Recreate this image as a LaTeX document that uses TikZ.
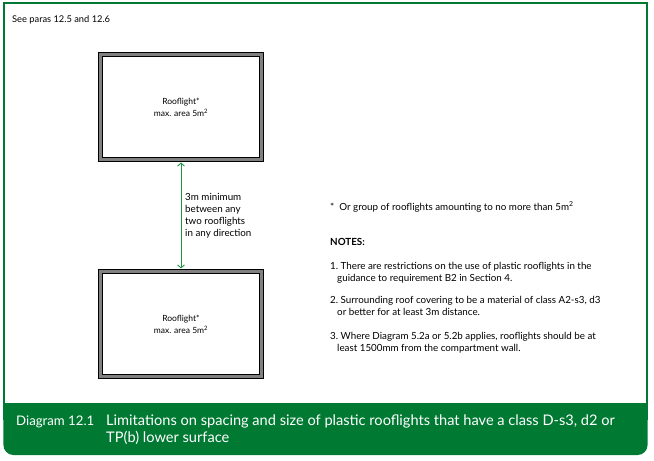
\documentclass[tikz,border=0pt]{standalone}
\usepackage{fontspec}
\setmainfont{Lato}
\usetikzlibrary{positioning,arrows.meta}

\definecolor{framegreen}{RGB}{0,122,51}
\definecolor{arrowgreen}{RGB}{34,145,72}
\definecolor{bordergray}{RGB}{128,128,128}

\tikzset{
  rooflight/.style={draw=black, line width=0.9pt, double=bordergray, double distance=2.6pt,
    minimum width=161pt, minimum height=105pt, inner sep=0pt, align=center,
    font=\fontsize{8.5}{12}\selectfont},
  notetext/.style={anchor=base west, inner sep=0pt, align=left,
    font=\fontsize{9.8}{12}\selectfont},
  captext/.style={anchor=base west, inner sep=0pt, align=left, text=white,
    font=\fontsize{14.6}{17}\selectfont}
}

\begin{document}
\begin{tikzpicture}[x=1pt,y=-1pt]
\useasboundingbox (0,0) rectangle (654,461);
% outer frame and caption band
\draw[framegreen, line width=1.1pt] (4,404) |- (647,3) -- (647,404);
\fill[framegreen, rounded corners=10pt] (3.45,403) rectangle (647.55,455);
\fill[framegreen] (3.45,403) rectangle (647.55,420);

\node[notetext, font=\fontsize{9.3}{12}\selectfont] (see) at (12,22) {See paras 12.5 and 12.6};

% rooflights
\node[rooflight] (top) at (181,107) {Rooflight*\\max. area 5m\textsuperscript{2}};
\node[rooflight] (bottom) at (181,324) {Rooflight*\\max. area 5m\textsuperscript{2}};

\draw[arrowgreen, line width=0.9pt, {Straight Barb[length=3pt,width=7pt]}-{Straight Barb[length=3pt,width=7pt]},
  shorten <=2.6pt, shorten >=2.6pt] (top.south) -- coordinate[pos=0.5] (gap) (bottom.north);
\node[notetext, anchor=west, xshift=4pt] (gaptext) at (gap)
  {3m minimum\\between any\\two rooflights\\in any direction};

% notes (base = last line)
\node[notetext] (star) at (330,210) {*\ \ Or group of rooflights amounting to no more than 5m\textsuperscript{2}};
\node[notetext] (notes) at (330,245) {\textbf{NOTES:}};
\node[notetext] (note1) at (330,281)
  {1.\ There are restrictions on the use of plastic rooflights in the\\\hspace*{7pt}guidance to requirement B2 in Section 4.};
\node[notetext] (note2) at (330,315)
  {2.\ Surrounding roof covering to be a material of class A2-s3, d3\\\hspace*{7pt}or better for at least 3m distance.};
\node[notetext] (note3) at (330,351)
  {3.\ Where Diagram 5.2a or 5.2b applies, rooflights should be at\\\hspace*{7pt}least 1500mm from the compartment wall.};

% caption
\node[captext, font=\fontsize{13.2}{17}\selectfont] (capnum) at (16,425) {Diagram 12.1};
\node[captext] (capline) at (106,442)
  {Limitations on spacing and size of plastic rooflights that have a class D-s3, d2 or\\TP(b) lower surface};
\end{tikzpicture}
\end{document}
